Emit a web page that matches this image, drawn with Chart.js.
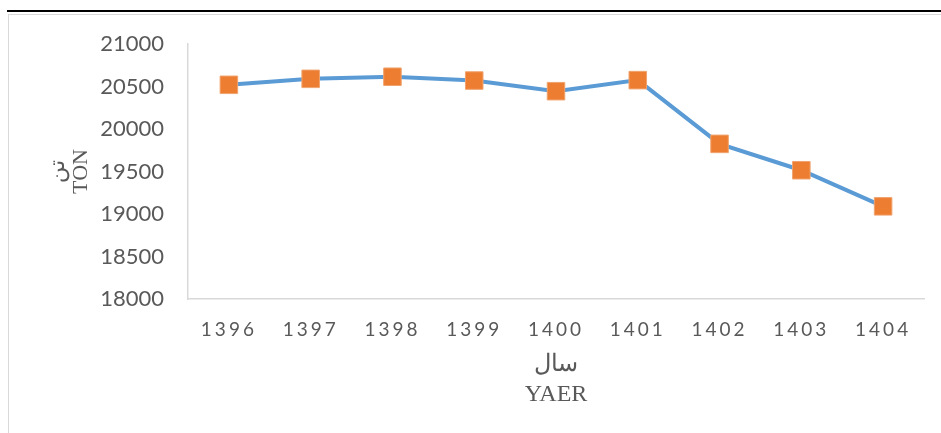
<!DOCTYPE html>
<html>
<head>
<meta charset="utf-8">
<script src="https://cdn.jsdelivr.net/npm/chart.js@4.4.1/dist/chart.umd.min.js"></script>
<style>
    html, body { margin: 0; padding: 0; background: #fff; overflow: hidden; }
    body { width: 941px; height: 433px; position: relative; }
    .rule { position: absolute; left: 7px; right: 0; top: 10px; height: 2px; background: #000; }
    .frame { position: absolute; left: 8px; top: 14px; width: 960px; height: 460px; border: 1px solid #d9d9d9; }
    .chart-box { position: absolute; left: 9px; top: 15px; width: 932px; height: 418px; }
</style>
</head>
<body>
<div class="rule"></div>
<div class="frame"></div>
<div class="chart-box"><canvas id="tonChart"></canvas></div>
<script>
const years = ['1396', '1397', '1398', '1399', '1400', '1401', '1402', '1403', '1404'];
const tons = [20520, 20590, 20615, 20570, 20445, 20575, 19825, 19515, 19090];
const yTitle = ['تن', 'TON'];
const xTitle = ['سال', 'YAER'];

const textGrey = '#595959';
const axisGrey = '#d9d9d9';

// x tick labels in the reference are letter-spaced
const spacedTicks = {
    id: 'spacedTicks',
    afterLayout(chart) {
        const sc = chart.scales.x;
        if (!sc || sc._spaced) return;
        const orig = sc.drawLabels.bind(sc);
        sc.drawLabels = (area) => {
            const c = sc.ctx;
            c.save();
            c.letterSpacing = '3px';
            orig(area);
            c.restore();
        };
        sc._spaced = true;
    }
};

new Chart(document.getElementById('tonChart'), {
    type: 'line',
    data: {
        labels: years,
        datasets: [{
            data: tons,
            borderColor: '#5b9bd5',
            borderWidth: 4,
            tension: 0,
            pointStyle: 'rect',
            pointRadius: 12.4,
            pointHoverRadius: 12.4,
            pointBackgroundColor: '#ed7d31',
            pointBorderColor: '#f0a36e',
            pointBorderWidth: 1
        }]
    },
    options: {
        responsive: true,
        maintainAspectRatio: false,
        animation: false,
        layout: { padding: { top: 29, right: 17, left: 0, bottom: 0 } },
        plugins: {
            legend: { display: false },
            tooltip: { enabled: false }
        },
        scales: {
            x: {
                offset: true,
                grid: { display: false, drawTicks: false },
                border: { display: true, color: axisGrey, width: 1.5 },
                ticks: {
                    color: textGrey,
                    padding: 19,
                    maxRotation: 0,
                    font: { family: 'Lato', size: 19 }
                },
                title: {
                    display: true,
                    text: xTitle,
                    color: textGrey,
                    padding: { top: 0, bottom: 23 },
                    font: { family: 'Liberation Serif', size: 24, lineHeight: '30px' }
                },
                afterFit(scale) { scale.height = 134; }
            },
            y: {
                min: 18000,
                max: 21000,
                grid: { display: false, drawTicks: false },
                border: { display: true, color: axisGrey, width: 1.5 },
                ticks: {
                    stepSize: 500,
                    color: textGrey,
                    padding: 24,
                    font: { family: 'Lato', size: 22 },
                    callback: (v) => String(v)
                },
                title: {
                    display: true,
                    text: yTitle,
                    color: textGrey,
                    padding: { top: 37.5, bottom: 0 },
                    font: { family: 'Liberation Serif', size: 22, lineHeight: '23px' }
                },
                afterFit(scale) {
                    scale.width = 179;
                    // tick padding would otherwise push the plot top down
                    scale.paddingTop = 0;
                    scale.paddingBottom = 0;
                }
            }
        }
    },
    plugins: [spacedTicks]
});
</script>
</body>
</html>
